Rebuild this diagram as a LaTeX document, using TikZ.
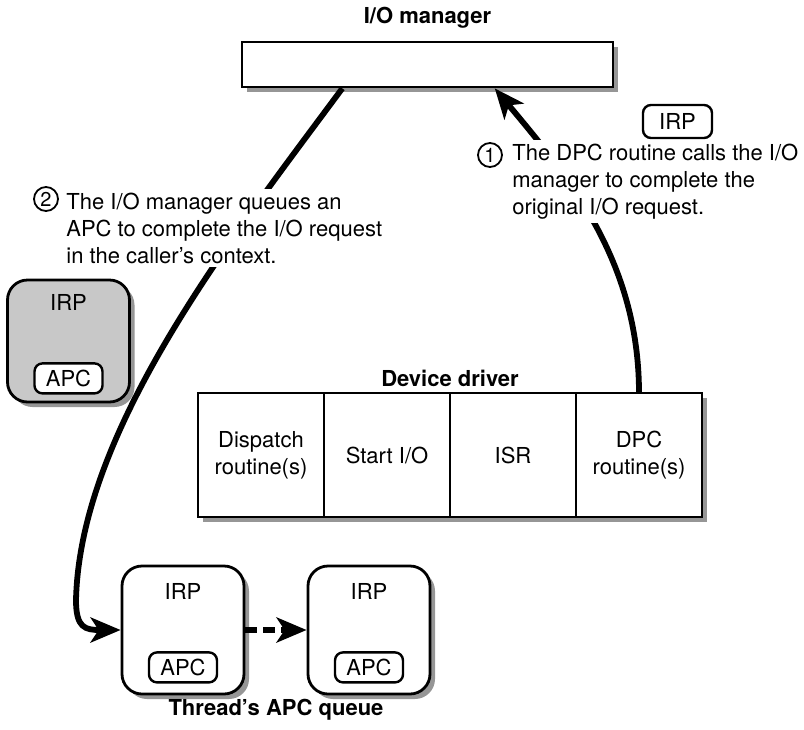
\documentclass[tikz,border=0pt]{standalone}
\usepackage{fontspec}
\setmainfont{TeX Gyre Heros}
\usetikzlibrary{arrows.meta,positioning,calc,shadows}
\definecolor{inkBlack}{RGB}{0, 0, 0}
\definecolor{shadeGray}{RGB}{150, 150, 150}
\definecolor{paperGray}{RGB}{200, 200, 200}

\tikzset{
  boxShadow/.style={drop shadow={shadow xshift=2.5pt, shadow yshift=-2.5pt, fill=shadeGray, opacity=1}},
  titleText/.style={font=\fontsize{11}{13.5}\selectfont\bfseries},
  mgrBox/.style={draw=inkBlack, fill=white, line width=1.4pt, minimum width=185.5pt, minimum height=22.5pt, boxShadow},
  routineBox/.style={draw=inkBlack, fill=white, line width=1.4pt, minimum width=63pt, minimum height=62pt, outer sep=0pt, align=center, boxShadow},
  irpBox/.style={draw=inkBlack, fill=white, line width=1.4pt, rounded corners=10pt, minimum width=61pt, minimum height=64pt, boxShadow},
  apcBox/.style={draw=inkBlack, fill=white, line width=1.2pt, rounded corners=4pt, minimum width=34pt, minimum height=15pt, inner sep=0pt},
  tagBox/.style={draw=inkBlack, fill=white, line width=1.2pt, rounded corners=4pt, minimum width=34.5pt, minimum height=16.5pt, inner sep=0pt},
  noteText/.style={fill=white, align=left, inner xsep=3pt, inner ysep=2pt},
  stepNum/.style={circle, draw=inkBlack, line width=0.9pt, inner sep=0pt, minimum size=12pt, font=\fontsize{10}{10}\selectfont},
  flowArrow/.style={line width=2.9pt, -{Stealth[length=15pt, width=12.5pt, inset=4pt]}},
  queueArrow/.style={line width=3pt, dash pattern=on 6pt off 3pt, -{Stealth[length=15pt, width=12.5pt, inset=4pt]}}
}

\begin{document}
\begin{tikzpicture}[x=0.5pt, y=-0.5pt, font=\fontsize{11}{13.5}\selectfont]
  \useasboundingbox (0,0) rectangle (804,729);

  % I/O manager
  \node[titleText] at (427.5,18) {I/O manager};
  \node[mgrBox] (iomgr) at (427.5,64.5) {};
  \node[tagBox] (irpTag) at (677.5,121.5) {IRP};
  \coordinate (mgrIn) at ($(iomgr.south west)!0.68!(iomgr.south east)$);
  \coordinate (mgrOut) at ($(iomgr.south west)!0.272!(iomgr.south east)$);

  % IRP set aside, greyed
  \node[irpBox, fill=paperGray, minimum height=61pt] (irpSide) at (68.5,341) {};
  \node at ([yshift=-12pt]irpSide.north) {IRP};
  \node[apcBox] (apcSide) at ([yshift=12.5pt]irpSide.south) {APC};

  % device driver routines
  \node[titleText] at (450,378) {Device driver};
  \node[routineBox] (dispatch) at (261,455) {Dispatch\\routine(s)};
  \node[routineBox, right=0pt of dispatch] (startio) {Start I/O};
  \node[routineBox, right=0pt of startio] (isr) {ISR};
  \node[routineBox, right=0pt of isr] (dpc) {DPC\\routine(s)};

  % thread's APC queue
  \node[irpBox] (irpA) at (183,630) {};
  \node at ([yshift=-13.5pt]irpA.north) {IRP};
  \node[apcBox] (apcA) at ([yshift=14pt]irpA.south) {APC};
  \node[irpBox] (irpB) at (369,630) {};
  \node at ([yshift=-13.5pt]irpB.north) {IRP};
  \node[apcBox] (apcB) at ([yshift=14pt]irpB.south) {APC};
  \node[titleText] at (276,710) {Thread’s APC queue};

  % connectors
  \draw[flowArrow] (dpc.north) .. controls (639,260) and (567,175) .. (mgrIn);
  \draw[flowArrow] (mgrOut) .. controls (230,240) and (80,430) .. (76,600)
    .. controls (76,628) and (85,630) .. (irpA.west);
  \draw[queueArrow] (irpA.east) -- (irpB.west);

  % step notes
  \node[noteText, anchor=west] (noteDpc) at (506,181.5) {The DPC routine calls the I/O\\manager to complete the\\original I/O request.};
  \node[stepNum] (numDpc) at (490,155) {1};
  \node[noteText, anchor=west] (noteApc) at (60,228) {The I/O manager queues an\\APC to complete the I/O request\\in the caller’s context.};
  \node[stepNum] (numApc) at (46,199) {2};
\end{tikzpicture}
\end{document}
